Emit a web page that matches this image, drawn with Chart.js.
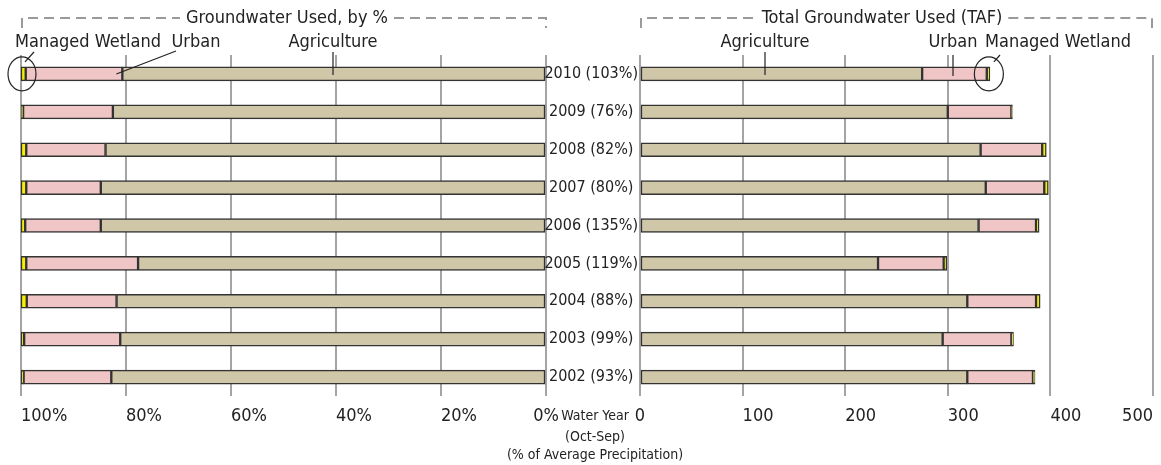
<!DOCTYPE html>
<html><head><meta charset="utf-8">
<script src="https://cdn.jsdelivr.net/npm/chart.js@4/dist/chart.umd.min.js"></script>
<style>
html,body{margin:0;padding:0;background:#fff;overflow:hidden}
#wrap{position:relative;width:1161px;height:465px}
canvas{position:absolute;left:0;top:0}
</style></head><body>
<div id="wrap">
<canvas id="left" width="1161" height="465"></canvas>
<canvas id="right" width="1161" height="465"></canvas>
</div>
<script>
// ---- data ----
const years = ['2010','2009','2008','2007','2006','2005','2004','2003','2002'];
const precipPct = [103, 76, 82, 80, 135, 119, 88, 99, 93];
// Total groundwater used (TAF)
const agTAF      = [275, 300, 332, 337, 330, 232, 319, 295, 319];
const urbanTAF   = [63, 62, 60, 57, 56, 64, 67, 67, 64];
const wetlandTAF = [3, 1, 4, 4, 3, 3, 4, 2, 2];
// Groundwater used, by %
const agPct      = [80.7, 82.5, 83.9, 84.8, 84.8, 77.7, 81.8, 81.1, 82.8];
const urbanPct   = [18.4, 17.1, 15.1, 14.2, 14.4, 21.3, 17.1, 18.3, 16.7];
const wetlandPct = [0.9, 0.4, 1.0, 1.0, 0.8, 1.0, 1.1, 0.6, 0.5];
const pctTicks = [0, 20, 40, 60, 80, 100];
const tafTicks = [0, 100, 200, 300, 400, 500];
const seriesNames = ['Agriculture', 'Urban', 'Managed Wetland'];

const rowLabels = years.map((y, i) => y + ' (' + precipPct[i] + '%)');
const FONT = "'DejaVu Sans Condensed', 'Liberation Sans Narrow', sans-serif";
const TXT = '#222';
const GRID = '#a4a4a4';
const COLORS = ['#cfc7a7', '#efc5c6', '#f5ef00'];
const EDGE = '#333';

function makeDatasets(arrs) {
  return arrs.map((d, i) => ({
    label: seriesNames[i], data: d,
    backgroundColor: COLORS[i], borderColor: EDGE, borderWidth: 1.5,
    borderSkipped: false, barThickness: 14
  }));
}

function alignPlugin(firstAlign, lastAlign) {
  return {
    id: 'tickAlign',
    beforeDraw(chart) {
      const items = chart.scales.x.getLabelItems();
      if (items.length) {
        if (firstAlign) items[0].options.textAlign = firstAlign;
        if (lastAlign) items[items.length - 1].options.textAlign = lastAlign;
      }
    }
  };
}

function bracket(ctx, x0, x1, y, text, tx) {
  ctx.save();
  ctx.font = '18px ' + FONT;
  const w = ctx.measureText(text).width;
  ctx.strokeStyle = '#9a9a9a'; ctx.lineWidth = 2; ctx.setLineDash([10, 6]);
  ctx.beginPath();
  ctx.moveTo(x0, y + 10); ctx.lineTo(x0, y); ctx.lineTo(tx - w / 2 - 6, y);
  ctx.moveTo(tx + w / 2 + 6, y); ctx.lineTo(x1, y); ctx.lineTo(x1, y + 10);
  ctx.stroke();
  ctx.setLineDash([]);
  ctx.fillStyle = TXT; ctx.textAlign = 'center'; ctx.textBaseline = 'middle';
  ctx.fillText(text, tx, y);
  ctx.restore();
}
function label(ctx, text, x, y) {
  ctx.save();
  ctx.font = '18px ' + FONT; ctx.fillStyle = TXT;
  ctx.textAlign = 'center'; ctx.textBaseline = 'middle';
  ctx.fillText(text, x, y);
  ctx.restore();
}
function line(ctx, x0, y0, x1, y1) {
  ctx.save(); ctx.strokeStyle = '#222'; ctx.lineWidth = 1.2;
  ctx.beginPath(); ctx.moveTo(x0, y0); ctx.lineTo(x1, y1); ctx.stroke(); ctx.restore();
}
function ellipse(ctx, x, y, rx, ry) {
  ctx.save(); ctx.strokeStyle = '#222'; ctx.lineWidth = 1.2;
  ctx.beginPath(); ctx.ellipse(x, y, rx, ry, 0, 0, Math.PI * 2); ctx.stroke(); ctx.restore();
}

const leftNotes = {
  id: 'leftNotes',
  afterDraw(chart) {
    const ctx = chart.ctx, xs = chart.scales.x, ys = chart.scales.y;
    const by = ys.getPixelForValue(0);
    const a = chart.chartArea;
    bracket(ctx, a.left + 1, a.right, 18, 'Groundwater Used, by %', 287);
    label(ctx, 'Managed Wetland', 88, 42);
    label(ctx, 'Urban', 196, 42);
    label(ctx, 'Agriculture', 333, 42);
    const wetX = xs.getPixelForValue(100);
    ellipse(ctx, wetX + 1, by, 14, 17);
    line(ctx, 34, 52, 25, by - 12);
    const urbX = xs.getPixelForValue(agPct[0]);
    line(ctx, 176, 51, urbX - 6, by);
    line(ctx, 333, 52, 333, by + 1);
  }
};
const rightNotes = {
  id: 'rightNotes',
  afterDraw(chart) {
    const ctx = chart.ctx, xs = chart.scales.x, ys = chart.scales.y;
    const by = ys.getPixelForValue(0);
    const a = chart.chartArea;
    bracket(ctx, a.left + 1, a.right - 1, 18, 'Total Groundwater Used (TAF)', 882);
    label(ctx, 'Agriculture', 765, 42);
    label(ctx, 'Urban', 953, 42);
    label(ctx, 'Managed Wetland', 1058, 42);
    line(ctx, 765, 52, 765, by + 1);
    line(ctx, 953, 55, 953, by + 2);
    const endX = xs.getPixelForValue(agTAF[0] + urbanTAF[0] + wetlandTAF[0]);
    ellipse(ctx, endX - 1, by, 14.5, 17);
    line(ctx, 1000, 55, endX + 4, by - 12);
    // bottom caption for the row labels
    ctx.save();
    ctx.fillStyle = TXT; ctx.textAlign = 'center'; ctx.textBaseline = 'middle';
    ctx.font = '14px ' + FONT;
    ctx.fillText('Water Year', 595, 416);
    ctx.fillText('(Oct-Sep)', 595, 437);
    ctx.fillText('(% of Average Precipitation)', 595, 455);
    ctx.restore();
  }
};

const common = {
  responsive: false, animation: false, indexAxis: 'y',
  plugins: { legend: { display: false }, tooltip: { enabled: false } }
};

function xFit(s) { s.height = 69; s.paddingLeft = 0; s.paddingRight = 0; }

new Chart(document.getElementById('left'), {
  type: 'bar',
  data: { labels: rowLabels, datasets: makeDatasets([agPct, urbanPct, wetlandPct]) },
  options: Object.assign({}, common, {
    layout: { padding: { left: 21, right: 1161 - 546, top: 55, bottom: 0 } },
    scales: {
      x: {
        type: 'linear', reverse: true, min: 0, max: 100, stacked: true,
        afterBuildTicks: s => { s.ticks = pctTicks.map(v => ({ value: v })); },
        afterFit: xFit,
        ticks: { callback: v => v + '%', align: 'start', padding: 10, autoSkip: false, maxRotation: 0,
                 color: TXT, font: { family: FONT, size: 18 } },
        grid: { color: GRID, lineWidth: 2, drawTicks: false },
        border: { display: false }
      },
      y: { stacked: true, display: false }
    }
  }),
  plugins: [alignPlugin('center', null), leftNotes]
});

new Chart(document.getElementById('right'), {
  type: 'bar',
  data: { labels: rowLabels, datasets: makeDatasets([agTAF, urbanTAF, wetlandTAF]) },
  options: Object.assign({}, common, {
    layout: { padding: { left: 530, right: 8, top: 55, bottom: 0 } },
    scales: {
      x: {
        type: 'linear', min: 0, max: 500, stacked: true,
        afterBuildTicks: s => { s.ticks = tafTicks.map(v => ({ value: v })); },
        afterFit: xFit,
        ticks: { align: 'start', padding: 10, autoSkip: false, maxRotation: 0,
                 color: TXT, font: { family: FONT, size: 18 } },
        grid: { color: GRID, lineWidth: 2, drawTicks: false },
        border: { display: false }
      },
      y: {
        stacked: true, position: 'left',
        afterFit: s => { s.width = 110; },
        ticks: { crossAlign: 'center', padding: 2, color: TXT, font: { family: FONT, size: 16 } },
        grid: { display: false, drawTicks: false },
        border: { display: false }
      }
    }
  }),
  plugins: [alignPlugin('center', 'right'), rightNotes]
});
</script>
</body></html>
